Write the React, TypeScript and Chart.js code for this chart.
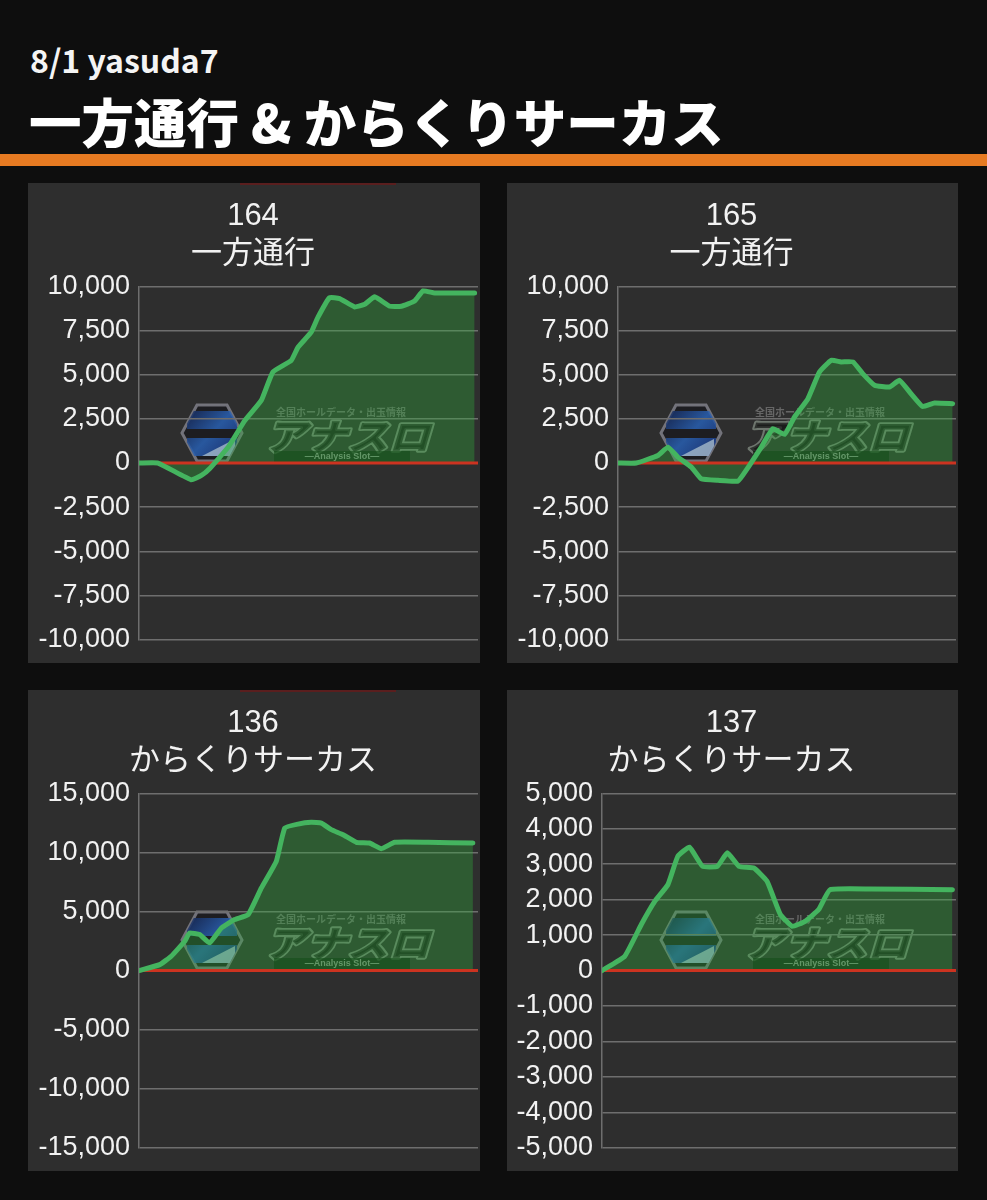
import React, { useEffect, useRef } from 'react';
import { Chart, registerables } from 'chart.js';

Chart.register(...registerables);

const FONT = '"Liberation Sans", Arial, "Noto Sans CJK JP", sans-serif';
const JP = '"Noto Sans CJK JP", "Noto Sans", sans-serif';

// ---- data (x = progress through the day, 0-100; y = difference in medals) ----
const title164 = ['164', '一方通行'];
const x164 = [0, 5.6, 15.4, 18.4, 20.8, 26.3, 31.2, 36.1, 39.5, 44.9, 46.9, 50.8, 52.8, 56.2, 59.2, 63.6, 66.6, 69.5, 74.0, 77.4, 81.3, 83.8, 87.2, 99];
const y164 = [0, 0, -950, -700, -320, 900, 2400, 3550, 5150, 5800, 6550, 7400, 8250, 9350, 9300, 8830, 8980, 9400, 8870, 8870, 9170, 9740, 9620, 9620];
const ticks164 = [-10000, -7500, -5000, -2500, 0, 2500, 5000, 7500, 10000];

const title165 = ['165', '一方通行'];
const x165 = [0, 5.4, 11.8, 14.8, 17.7, 21.7, 24.6, 29.6, 35.5, 37.9, 42.4, 45.8, 49.3, 52.2, 56.2, 59.6, 63.1, 66.0, 69.5, 72.4, 75.9, 80.3, 83.3, 86.7, 90.1, 93.6, 99];
const y165 = [0, 0, 430, 900, 340, -230, -890, -980, -1020, -415, 900, 1940, 1620, 2600, 3640, 5150, 5810, 5720, 5720, 5060, 4400, 4300, 4680, 3920, 3200, 3400, 3360];
const ticks165 = [-10000, -7500, -5000, -2500, 0, 2500, 5000, 7500, 10000];

const title136 = ['136', 'からくりサーカス'];
const x136 = [0, 6.1, 9.5, 13.5, 14.9, 17.9, 20.8, 24.3, 28.2, 32.2, 36.1, 40.5, 43.0, 46.9, 50.8, 53.8, 56.7, 60.2, 64.1, 68.0, 71.5, 75.4, 85.2, 98.5];
const y136 = [0, 500, 1210, 2480, 3180, 3040, 2340, 3600, 4310, 4730, 6990, 9240, 12060, 12390, 12540, 12480, 11920, 11490, 10850, 10790, 10310, 10850, 10850, 10790];
const ticks136 = [-15000, -10000, -5000, 0, 5000, 10000, 15000];

const title137 = ['137', 'からくりサーカス'];
const x137 = [0, 6.4, 11.1, 14.9, 18.6, 21.4, 24.7, 28.4, 32.6, 35.4, 38.7, 42.9, 46.6, 48.5, 50.4, 53.7, 57.4, 61.2, 64.4, 75.7, 99];
const y137 = [0, 400, 1300, 1950, 2420, 3220, 3480, 2940, 2940, 3320, 2940, 2890, 2520, 2050, 1580, 1250, 1390, 1720, 2280, 2300, 2280];
const ticks137 = [-5000, -4000, -3000, -2000, -1000, 0, 1000, 2000, 3000, 4000, 5000];

// ---- plugins ----
const watermarkPlugin = {
  id: 'watermark',
  beforeDraw(chart: any) {
    const ctx = chart.ctx;
    ctx.save();
    // hexagon emblem
    const cx = 184, cy = 250, rx = 30, ry = 28;
    const hex = () => {
      ctx.beginPath();
      ctx.moveTo(cx - rx, cy);
      ctx.lineTo(cx - rx / 2, cy - ry);
      ctx.lineTo(cx + rx / 2, cy - ry);
      ctx.lineTo(cx + rx, cy);
      ctx.lineTo(cx + rx / 2, cy + ry);
      ctx.lineTo(cx - rx / 2, cy + ry);
      ctx.closePath();
    };
    ctx.globalAlpha = 0.85;
    hex();
    ctx.fillStyle = '#1a1a1e';
    ctx.fill();
    ctx.strokeStyle = '#80808a';
    ctx.lineWidth = 3;
    ctx.stroke();
    ctx.save();
    hex();
    ctx.clip();
    const g = ctx.createLinearGradient(cx - rx, cy - ry, cx + rx, cy + ry);
    g.addColorStop(0, '#10183e');
    g.addColorStop(0.5, '#2a62b4');
    g.addColorStop(1, '#16276e');
    ctx.fillStyle = g;
    ctx.fillRect(cx - rx + 5, cy - ry + 6, rx * 2 - 10, ry - 10);
    ctx.fillRect(cx - rx + 5, cy + 5, rx * 2 - 10, ry - 10);
    ctx.fillStyle = 'rgba(180,200,210,0.85)';
    ctx.beginPath();
    ctx.moveTo(cx - 10, cy + ry - 5);
    ctx.lineTo(cx + rx - 7, cy + 6);
    ctx.lineTo(cx + rx - 7, cy + ry - 5);
    ctx.closePath();
    ctx.fill();
    ctx.restore();

    // small caption
    ctx.globalAlpha = 0.4;
    ctx.fillStyle = '#bbbbbb';
    ctx.font = `bold 10px ${JP}`;
    ctx.textAlign = 'center';
    ctx.textBaseline = 'middle';
    ctx.fillText('全国ホールデータ・出玉情報', 313, 229);

    // アナスロ logotype (slanted)
    ctx.globalAlpha = 0.7;
    ctx.save();
    ctx.translate(323, 253);
    ctx.transform(1, 0, -0.3, 1, 0, 0);
    ctx.font = `900 40px ${JP}`;
    const w = ctx.measureText('アナスロ').width;
    ctx.scale(165 / w, 0.9);
    ctx.lineJoin = 'round';
    ctx.strokeStyle = '#8a968a';
    ctx.lineWidth = 4;
    ctx.strokeText('アナスロ', 0, 0);
    ctx.fillStyle = '#141614';
    ctx.fillText('アナスロ', 0, 0);
    ctx.restore();

    // Analysis Slot bar
    ctx.globalAlpha = 0.65;
    ctx.fillStyle = '#0b1d0d';
    ctx.fillRect(246, 268, 136, 11);
    ctx.fillStyle = '#b8c0b8';
    ctx.font = `bold 9px ${FONT}`;
    ctx.fillText('—Analysis Slot—', 314, 274);
    ctx.restore();
  },
};

const zeroLinePlugin = {
  id: 'zeroLine',
  beforeDatasetsDraw(chart: any) {
    const { ctx, chartArea } = chart;
    const y = chart.scales.y.getPixelForValue(0);
    ctx.save();
    ctx.strokeStyle = '#cc3320';
    ctx.lineWidth = 3;
    ctx.beginPath();
    ctx.moveTo(chartArea.left, y);
    ctx.lineTo(chartArea.right, y);
    ctx.stroke();
    ctx.restore();
  },
};

type PanelProps = {
  title: string[];
  xs: number[];
  ys: number[];
  ticks: number[];
  axisWidth: number;
  left: number;
  top: number;
  width: number;
  height: number;
  redTop?: boolean;
};

function ChartPanel({ title, xs, ys, ticks, axisWidth, left, top, width, height, redTop }: PanelProps) {
  const ref = useRef<HTMLCanvasElement | null>(null);
  useEffect(() => {
    if (!ref.current) return;
    const chart = new Chart(ref.current, {
      type: 'line',
      data: {
        datasets: [
          {
            data: xs.map((x, i) => ({ x, y: ys[i] })),
            borderColor: '#44b45f',
            borderWidth: 5,
            pointRadius: 0,
            fill: 'origin',
            backgroundColor: 'rgba(48,178,58,0.34)',
            tension: 0.12,
            borderJoinStyle: 'round',
            borderCapStyle: 'round',
          } as any,
        ],
      },
      options: {
        responsive: false,
        animation: false,
        events: [],
        layout: { padding: { left: 0, right: 2, top: 0, bottom: 0 } },
        plugins: {
          legend: { display: false },
          tooltip: { enabled: false },
          title: {
            display: true,
            text: title,
            color: '#f2f2f2',
            font: { family: FONT, size: 31, weight: 'normal', lineHeight: 1.23 },
            padding: { top: 14, bottom: 13 },
          },
          filler: { drawTime: 'beforeDatasetsDraw' },
        } as any,
        scales: {
          x: { type: 'linear', min: 0, max: 100, display: false },
          y: {
            min: ticks[0],
            max: ticks[ticks.length - 1],
            afterBuildTicks: (s: any) => {
              s.ticks = ticks.map((v) => ({ value: v }));
            },
            afterFit: (s: any) => {
              s.width = axisWidth;
            },
            ticks: {
              color: '#f2f2f2',
              font: { family: FONT, size: 27, lineHeight: 1.05 },
              padding: 9,
              callback: (v: any) => Number(v).toLocaleString('en-US'),
            },
            grid: { color: '#6e6e6e', lineWidth: 1.5, drawTicks: false },
            border: { display: true, color: '#6e6e6e', width: 1.5 },
          },
        },
      } as any,
      plugins: [watermarkPlugin, zeroLinePlugin],
    });
    return () => chart.destroy();
  }, []);
  return (
    <div style={{ position: 'absolute', left, top, width, height, background: '#2e2e2e' }}>
      {redTop && (
        <div style={{ position: 'absolute', left: 212, top: 0, width: 156, height: 2, background: '#5a1e1e' }} />
      )}
      <canvas ref={ref} width={width} height={height} style={{ display: 'block' }} />
    </div>
  );
}

export default function App() {
  return (
    <div
      style={{
        position: 'absolute',
        left: 0,
        top: 0,
        width: 987,
        height: 1200,
        background: '#0e0e0e',
        overflow: 'hidden',
      }}
    >
      <div
        style={{
          position: 'absolute',
          left: 30,
          top: 42,
          fontFamily: JP,
          fontWeight: 700,
          fontSize: 32,
          lineHeight: '34px',
          color: '#f4f4f4',
          whiteSpace: 'nowrap',
        }}
      >
        8/1 yasuda7
      </div>
      <div
        style={{
          position: 'absolute',
          left: 29,
          top: 91,
          fontFamily: JP,
          fontWeight: 900,
          fontSize: 52.5,
          lineHeight: '58px',
          color: '#ffffff',
          whiteSpace: 'nowrap',
        }}
      >
        一方通行 &amp; からくりサーカス
      </div>
      <div style={{ position: 'absolute', left: 0, top: 154, width: 987, height: 12, background: '#e67a22' }} />

      <ChartPanel title={title164} xs={x164} ys={y164} ticks={ticks164} axisWidth={111} left={28} top={183} width={452} height={480} redTop />
      <ChartPanel title={title165} xs={x165} ys={y165} ticks={ticks165} axisWidth={111} left={507} top={183} width={451} height={480} />
      <ChartPanel title={title136} xs={x136} ys={y136} ticks={ticks136} axisWidth={111} left={28} top={690} width={452} height={481} redTop />
      <ChartPanel title={title137} xs={x137} ys={y137} ticks={ticks137} axisWidth={95} left={507} top={690} width={451} height={481} />
    </div>
  );
}
